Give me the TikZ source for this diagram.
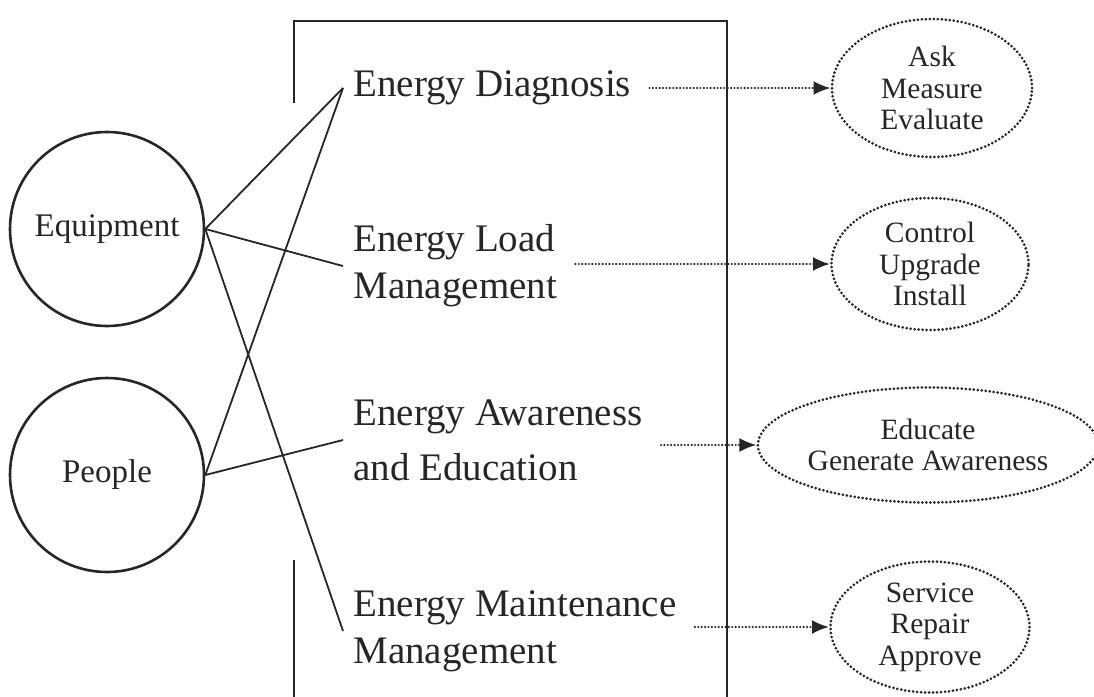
\documentclass[tikz,border=0pt]{standalone}
\usepackage{fontspec}
\setmainfont{Liberation Serif}
\usetikzlibrary{arrows.meta,shapes.geometric,positioning}

\begin{document}
\begin{tikzpicture}[x=0.5pt,y=-0.5pt,node distance=123pt,>={Latex[length=8.5pt,width=7pt]}]
        \tikzstyle{actor}=[circle,draw=black!85,line width=1.3pt,minimum size=97pt,inner sep=0pt,text=black!85,font=\fontsize{16.5}{19}\selectfont]
        \tikzstyle{task}=[align=left,anchor=west,inner sep=5pt,text=black!85,font=\fontsize{19.5}{23.5}\selectfont]
        \tikzstyle{act}=[ellipse,draw=black!85,line width=1.5pt,line cap=round,dash pattern=on 0pt off 2pt,inner sep=0pt,align=center,text=black!85,font=\fontsize{14.75}{15.75}\selectfont]
        \tikzstyle{link}=[draw=black!85,line width=0.9pt]
        \tikzstyle{frame}=[draw=black!85,line width=0.8pt]
        \tikzstyle{flow}=[->,draw=black!85,line width=1.2pt,line cap=round,dash pattern=on 0pt off 1.7pt,shorten <=4pt]

        \useasboundingbox (0,0) rectangle (1094,697);

        % open frame
        \draw[frame] (294,103) -- (294,21) -- (727,21) -- (727,697);
        \draw[frame] (294,560) -- (294,697);

        \node [actor] (equip) at (107,229) {Equipment};
        \node [actor] (people) [below of=equip] {People};

        \node [task] (diag)  at (343,88)  {Energy Diagnosis};
        \node [task] (load)  at (343,266) {Energy Load\\Management};
        \node [task, font=\fontsize{19.5}{27.5}\selectfont] (aware) at (343,440) {Energy Awareness\\and Education};
        \node [task] (maint) at (343,631) {Energy Maintenance\\Management};

        \node [act, minimum width=100pt, minimum height=69pt]   (e1) at (932,88)  {Ask\\Measure\\Evaluate};
        \node [act, minimum width=98.5pt, minimum height=66pt]  (e2) at (930,264) {Control\\Upgrade\\Install};
        \node [act, minimum width=165pt, minimum height=57.5pt] (e3) at (928,445) {Educate\\Generate Awareness};
        \node [act, minimum width=99.5pt, minimum height=65.5pt] (e4) at (930,627) {Service\\Repair\\Approve};

        \draw[link] (equip.east) -- (diag.west);
        \draw[link] (equip.east) -- (load.west);
        \draw[link] (equip.east) -- (maint.west);
        \draw[link] (people.east) -- (diag.west);
        \draw[link] (people.east) -- (aware.west);

        \draw[flow] (diag.east |- e1.west) -- (e1.west);
        \draw[flow] (load.east |- e2.west) -- (e2.west);
        \draw[flow] (aware.east |- e3.west) -- (e3.west);
        \draw[flow] (maint.east |- e4.west) -- (e4.west);
\end{tikzpicture}
\end{document}
